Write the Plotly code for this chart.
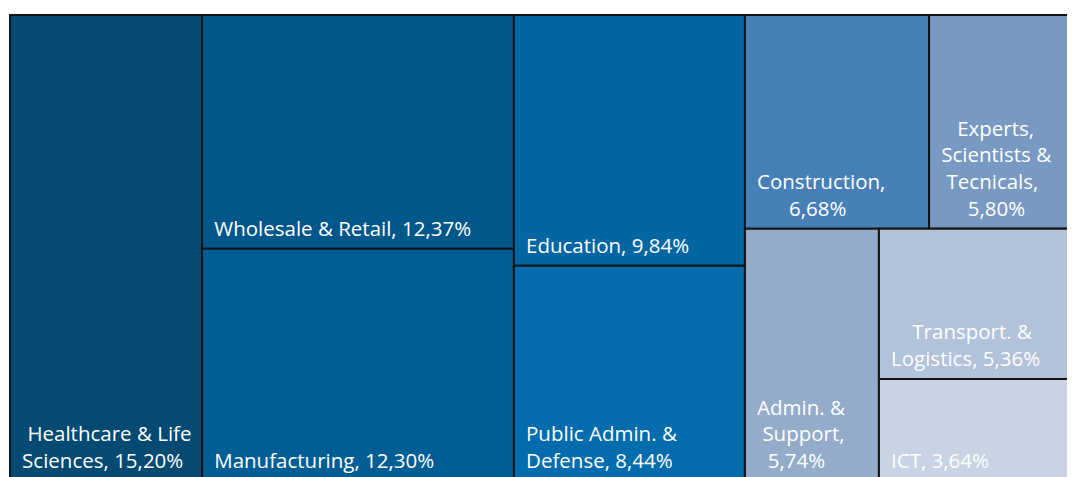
import plotly.graph_objects as go

# ---------------- Data ----------------
sectors = ["Healthcare & Life Sciences", "Wholesale & Retail", "Manufacturing",
           "Education", "Public Admin. & Defense", "Construction",
           "Experts, Scientists & Tecnicals", "Admin. & Support",
           "Transport. & Logistics", "ICT"]
shares = [15.20, 12.37, 12.30, 9.84, 8.44, 6.68, 5.80, 5.74, 5.36, 3.64]
label_lines = [
    ["Healthcare & Life", "Sciences, 15,20%"],
    ["Wholesale & Retail, 12,37%"],
    ["Manufacturing, 12,30%"],
    ["Education, 9,84%"],
    ["Public Admin. &", "Defense, 8,44%"],
    ["Construction,", "6,68%"],
    ["Experts,", "Scientists &", "Tecnicals,", "5,80%"],
    ["Admin. &", "Support,", "5,74%"],
    ["Transport. &", "Logistics, 5,36%"],
    ["ICT, 3,64%"],
]
colors = ["#044a72", "#02578a", "#015e94", "#0266a2", "#036cac",
          "#4780b6", "#7799c2", "#94acca", "#b1c2d9", "#c8d3e4"]

# structural (hidden) grouping that reproduces the original tiling
group_of = ["", "G1", "G1", "G2", "G2", "G3a", "G3a", "G3b", "G3c", "G3c"]
groups = ["G1", "G2", "G3", "G3a", "G3b", "G3c"]
group_parent = ["", "", "", "G3", "G3", "G3b"]

FONT_SIZE = 20.5
SPACE_EM = 0.26  # width of a space in Open Sans


def est_width(s):
    """rough text width in em for Open Sans"""
    w = 0.0
    for ch in s:
        if ch in "iljtfr,.: I'":
            w += 0.28
        elif ch in "mwMW%":
            w += 0.85
        elif ch.isdigit():
            w += 0.57
        elif ch.isupper() or ch == "&":
            w += 0.66
        else:
            w += 0.56
    return w


def build_label(lines):
    widths = [est_width(l) for l in lines]
    m = max(widths)
    lead = '<span style="font-size:%dpx">&nbsp;</span>' % round(9 / SPACE_EM)
    out = []
    for l, w in zip(lines, widths):
        n = int((m - w) / 2 / SPACE_EM + 0.3)
        out.append(lead + "&nbsp;" * n + l)
    return "<br>".join(out)


ids = groups + sectors
parents = group_parent + group_of
values = [0] * len(groups) + shares
texts = [""] * len(groups) + [build_label(l) for l in label_lines]
cols = ["rgba(0,0,0,0)"] * len(groups) + colors

order_ids = ["Healthcare & Life Sciences", "G1", "G2", "G3",
             "Wholesale & Retail", "Manufacturing", "Education",
             "Public Admin. & Defense", "G3a", "G3b",
             "Construction", "Experts, Scientists & Tecnicals",
             "Admin. & Support", "G3c", "Transport. & Logistics", "ICT"]
idx = [ids.index(i) for i in order_ids]

fig = go.Figure(go.Treemap(
    ids=[ids[i] for i in idx],
    labels=[ids[i] for i in idx],
    parents=[parents[i] for i in idx],
    values=[values[i] for i in idx],
    text=[texts[i] for i in idx],
    textinfo="text",
    branchvalues="remainder",
    sort=False,
    tiling=dict(packing="slice-dice", pad=0),
    marker=dict(colors=[cols[i] for i in idx],
                line=dict(color="#151515", width=2),
                pad=dict(t=0, l=0, r=0, b=0)),
    pathbar=dict(visible=False),
    textposition="bottom left",
    textfont=dict(family="Open Sans", size=FONT_SIZE, color="white"),
    hoverinfo="skip",
))
fig.update_layout(
    width=1081, height=473,
    margin=dict(l=2, r=0, t=7, b=0),
    paper_bgcolor="white",
    uniformtext=dict(minsize=FONT_SIZE, mode="show"),
)
fig.write_html("out.html")
